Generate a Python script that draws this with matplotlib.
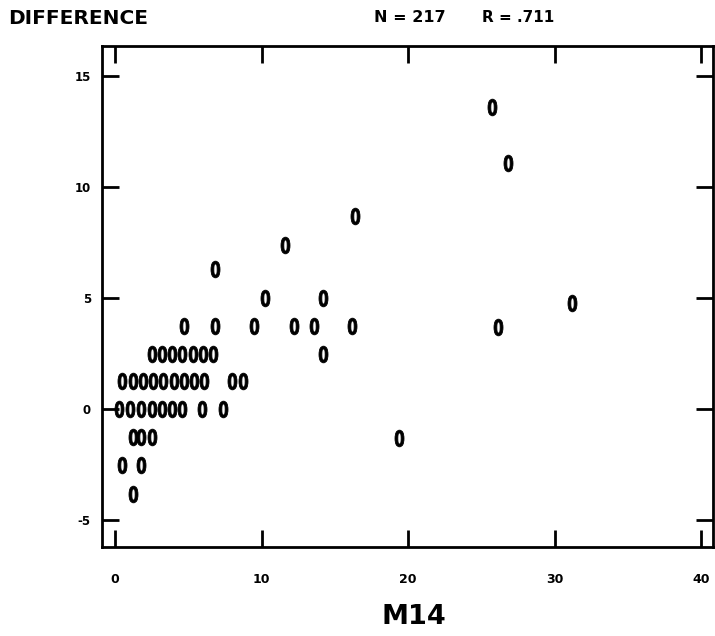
import matplotlib
matplotlib.use("Agg")
import matplotlib.pyplot as plt
from matplotlib.textpath import TextPath
from matplotlib.font_manager import FontProperties
from matplotlib.transforms import Affine2D

# ---- data ----
x_vals = [25.7, 26.8, 16.4, 11.6, 6.8,
          10.2, 14.2, 31.2,
          4.7, 6.8, 9.5, 12.2, 13.6, 16.2, 26.1,
          2.5, 3.2, 3.9, 4.6, 5.3, 6.0, 6.7, 14.2,
          0.5, 1.2, 1.9, 2.6, 3.3, 4.0, 4.7, 5.4, 6.1, 8.0, 8.7,
          0.3, 1.0, 1.8, 2.5, 3.2, 3.9, 4.6, 5.9, 7.4,
          1.2, 1.8, 2.5, 19.4,
          0.5, 1.8,
          1.2]
y_vals = [13.6, 11.1, 8.7, 7.4, 6.3,
          5.0, 5.0, 4.8,
          3.75, 3.75, 3.75, 3.75, 3.75, 3.75, 3.7,
          2.5, 2.5, 2.5, 2.5, 2.5, 2.5, 2.5, 2.5,
          1.25, 1.25, 1.25, 1.25, 1.25, 1.25, 1.25, 1.25, 1.25, 1.25, 1.25,
          0, 0, 0, 0, 0, 0, 0, 0, 0,
          -1.25, -1.25, -1.25, -1.3,
          -2.5, -2.5,
          -3.8]
x_ticks = [0, 10, 20, 30, 40]
y_ticks = [-5, 0, 5, 10, 15]
y_title = "DIFFERENCE"
stat_n = "N = 217"
stat_r = "R = .711"
x_title = "M14"

plt.rcParams['font.family'] = ['DejaVu Sans']

# printer-style "0" glyph as a narrow marker
fp = FontProperties(family='DejaVu Sans', weight='bold')
zp = TextPath((0, 0), "0", prop=fp, size=10)
ext = zp.get_extents()
cx, cy = (ext.x0 + ext.x1) / 2, (ext.y0 + ext.y1) / 2
zero_marker = zp.transformed(Affine2D().translate(-cx, -cy).scale(0.68, 1.0))

fig = plt.figure(figsize=(7.15, 6.36), dpi=100)
ax = fig.add_axes([102 / 715, 1 - 547 / 636, 611 / 715, 501 / 636])

ax.plot(x_vals, y_vals, linestyle='none', marker=zero_marker,
        markersize=12, color='black', markeredgewidth=0.6)

ax.set_xlim(-0.89, 40.8)
ax.set_ylim(-6.2, 16.35)
ax.set_xticks(x_ticks)
ax.set_yticks(y_ticks)
ax.set_xticklabels([str(t) for t in x_ticks], fontsize=9, fontweight='bold')
ax.set_yticklabels([str(t) for t in y_ticks], fontsize=8.5, fontweight='bold')
ax.tick_params(axis='both', direction='in', length=12, width=2,
               top=True, right=True, color='black')
ax.tick_params(axis='x', pad=19)
ax.tick_params(axis='y', pad=8)
for s in ax.spines.values():
    s.set_linewidth(2)
    s.set_color('black')

fig.text(8 / 715, 1 - 18 / 636, y_title, fontsize=14.5, fontweight='bold',
         ha='left', va='center')
fig.text(410 / 715, 1 - 18 / 636, stat_n, fontsize=11.5, fontweight='bold',
         ha='center', va='center')
fig.text(518 / 715, 1 - 18 / 636, stat_r, fontsize=11, fontweight='bold',
         ha='center', va='center')
fig.text(414 / 715, 1 - 617 / 636, x_title, fontsize=19.5, fontweight='bold',
         ha='center', va='center')

fig.savefig("out.png", dpi=100, facecolor='white')
